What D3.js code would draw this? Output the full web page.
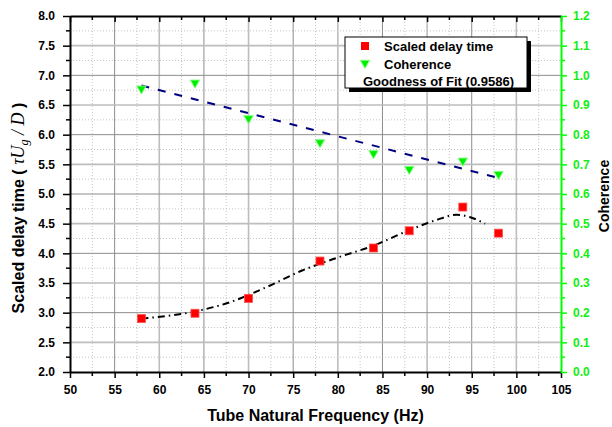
<!DOCTYPE html>
<html>
<head>
<meta charset="utf-8">
<script src="https://cdn.jsdelivr.net/npm/d3@7"></script>
<style>
  body { margin: 0; background: #fff; }
  text { font-family: "Liberation Sans", Arial, sans-serif; font-weight: bold; }
</style>
</head>
<body>
<div class="vis-chart"></div>
<script>
// data
const freq = [58, 64, 70, 78, 84, 88, 94, 98];
const delayTime = [2.90, 2.99, 3.24, 3.87, 4.09, 4.38, 4.78, 4.34];
const coherence = [0.955, 0.975, 0.855, 0.774, 0.737, 0.684, 0.712, 0.667];
// linear fit of coherence (end points)
const fitFreq = [58, 98];
const fitCoh = [0.966, 0.654];
// smooth fit of delay time
const curveFreq = [58, 64, 68, 72, 76, 80, 84, 88, 91, 93.3, 95, 96.5];
const curveDelay = [2.90, 3.02, 3.18, 3.43, 3.71, 3.93, 4.13, 4.39, 4.56, 4.65, 4.60, 4.50];
const xTicks = d3.range(50, 106, 5);
const yTicks = d3.range(2, 8.001, 0.5);
const y2Ticks = d3.range(0, 1.2001, 0.1);
const legendItems = ["Scaled delay time", "Coherence", "Goodness of Fit (0.9586)"];

var margin = {top: 16, right: 51, bottom: 55, left: 70},
    W = 612, H = 427,
    width = W - margin.left - margin.right,
    height = H - margin.top - margin.bottom;

var svg = d3.select(".vis-chart").append("svg")
    .attr("width", W).attr("height", H);
var g = svg.append("g")
    .attr("transform", "translate(" + margin.left + "," + margin.top + ")");

var x = d3.scaleLinear().domain([50, 105]).range([0, width]);
var y = d3.scaleLinear().domain([2, 8]).range([height, 0]);
var y2 = d3.scaleLinear().domain([0, 1.2]).range([height, 0]);

// grid: minor dotted, major solid
var grid = g.append("g");
d3.range(52.5, 105, 5).forEach(function (v) {
  grid.append("line").attr("x1", x(v)).attr("x2", x(v)).attr("y1", 0).attr("y2", height)
    .attr("stroke", "#c4c4c4").attr("stroke-dasharray", "1,2");
});
d3.range(2.25, 8, 0.5).forEach(function (v) {
  grid.append("line").attr("y1", y(v)).attr("y2", y(v)).attr("x1", 0).attr("x2", width)
    .attr("stroke", "#c4c4c4").attr("stroke-dasharray", "1,2");
});
xTicks.slice(1, -1).forEach(function (v) {
  var light = v % 10 === 0;
  grid.append("line").attr("x1", x(v)).attr("x2", x(v)).attr("y1", 0).attr("y2", height)
    .attr("stroke", light ? "#bdbdbd" : "#8c8c8c").attr("stroke-width", light ? 1.6 : 1);
});
yTicks.slice(1, -1).forEach(function (v) {
  var light = Math.abs(v - Math.round(v)) > 0.1;
  grid.append("line").attr("y1", y(v)).attr("y2", y(v)).attr("x1", 0).attr("x2", width)
    .attr("stroke", light ? "#bdbdbd" : "#8c8c8c").attr("stroke-width", light ? 1.6 : 1);
});

// axes
function styleAxis(sel, color) {
  sel.select(".domain").attr("stroke", color).attr("stroke-width", 2);
  sel.selectAll(".tick line").attr("stroke", color).attr("stroke-width", 1.5);
  sel.selectAll("text").attr("fill", color).style("font-size", "12px");
}
function minor(axisG, vals, fn, color) {
  vals.forEach(function (v) { fn(axisG.append("line").attr("stroke", color).attr("stroke-width", 1.5), v); });
}

var xAxis = g.append("g").attr("transform", "translate(0," + height + ")")
  .call(d3.axisBottom(x).tickValues(xTicks).tickFormat(d3.format("d")).tickSize(6).tickPadding(7).tickSizeOuter(0));
styleAxis(xAxis, "#000");
minor(xAxis, d3.range(52.5, 105, 5), function (l, v) { l.attr("x1", x(v)).attr("x2", x(v)).attr("y1", 0).attr("y2", 4); }, "#000");

var topAxis = g.append("g")
  .call(d3.axisTop(x).tickValues(xTicks).tickFormat("").tickSize(-6).tickSizeOuter(0));
styleAxis(topAxis, "#000");
minor(topAxis, d3.range(52.5, 105, 5), function (l, v) { l.attr("x1", x(v)).attr("x2", x(v)).attr("y1", 0).attr("y2", 4); }, "#000");

var yAxis = g.append("g")
  .call(d3.axisLeft(y).tickValues(yTicks).tickFormat(d3.format(".1f")).tickSize(7).tickPadding(8).tickSizeOuter(0));
styleAxis(yAxis, "#000");
minor(yAxis, d3.range(2.25, 8, 0.5), function (l, v) { l.attr("y1", y(v)).attr("y2", y(v)).attr("x1", 0).attr("x2", -4); }, "#000");

var green = "#00ff00";
var y2Axis = g.append("g").attr("transform", "translate(" + width + ",0)")
  .call(d3.axisRight(y2).tickValues(y2Ticks).tickFormat(d3.format(".1f")).tickSize(6).tickPadding(6).tickSizeOuter(0));
styleAxis(y2Axis, green);
y2Axis.selectAll("text").attr("fill", "#11ee11");
minor(y2Axis, d3.range(0.05, 1.2, 0.1), function (l, v) { l.attr("y1", y2(v)).attr("y2", y2(v)).attr("x1", 0).attr("x2", 4); }, green);

// fit lines
g.append("path")
  .datum(fitFreq.map(function (f, i) { return [f, fitCoh[i]]; }))
  .attr("d", d3.line().x(function (d) { return x(d[0]); }).y(function (d) { return y2(d[1]); }))
  .attr("fill", "none").attr("stroke", "#000080").attr("stroke-width", 2)
  .attr("stroke-dasharray", "8,9");

g.append("path")
  .datum(curveFreq.map(function (f, i) { return [f, curveDelay[i]]; }))
  .attr("d", d3.line().curve(d3.curveMonotoneX).x(function (d) { return x(d[0]); }).y(function (d) { return y(d[1]); }))
  .attr("fill", "none").attr("stroke", "#000").attr("stroke-width", 2)
  .attr("stroke-dasharray", "7,4,1.5,4");

// markers
g.append("g").selectAll("rect")
  .data(freq)
  .enter().append("rect")
    .attr("x", function (d) { return x(d) - 4; })
    .attr("y", function (d, i) { return y(delayTime[i]) - 4; })
    .attr("width", 8).attr("height", 8)
    .attr("fill", "#ff0000").attr("stroke", "#ff5050").attr("stroke-width", 0.8);

var tri = d3.symbol().type(d3.symbolTriangle).size(38);
g.append("g").selectAll("path")
  .data(freq)
  .enter().append("path")
    .attr("d", tri)
    .attr("transform", function (d, i) { return "translate(" + x(d) + "," + y2(coherence[i]) + ") rotate(180)"; })
    .attr("fill", "#00ee00").attr("stroke", "#80ff80").attr("stroke-width", 1);

// legend
var lg = svg.append("g").attr("transform", "translate(345,37)");
lg.append("rect").attr("x", 4).attr("y", 4).attr("width", 182).attr("height", 51).attr("fill", "#000");
lg.append("rect").attr("x", 0).attr("y", 0).attr("width", 182).attr("height", 51)
  .attr("fill", "#fff").attr("stroke", "#000").attr("stroke-width", 1);
lg.append("rect").attr("x", 16).attr("y", 5).attr("width", 8).attr("height", 8).attr("fill", "#ff0000");
lg.append("path").attr("d", tri).attr("transform", "translate(20,26) rotate(180)")
  .attr("fill", "#00ee00").attr("stroke", "#80ff80");
legendItems.forEach(function (t, i) {
  lg.append("text").attr("x", i < 2 ? 39 : 18).attr("y", 14 + i * 17.5)
    .style("font-size", "13px").text(t);
});

// titles
svg.append("text").attr("x", margin.left + width / 2).attr("y", 421)
  .attr("text-anchor", "middle").style("font-size", "16px").text("Tube Natural Frequency (Hz)");

var serif = "'Liberation Serif', 'Times New Roman', serif";
var yt = svg.append("text").attr("transform", "translate(24,208) rotate(-90)")
  .attr("text-anchor", "middle").style("font-size", "16px");
yt.append("tspan").text("Scaled delay time ( ");
yt.append("tspan").style("font-family", serif)
  .style("font-style", "italic").style("font-weight", "normal").style("font-size", "18px").text("\u03C4U");
yt.append("tspan").style("font-family", serif)
  .style("font-style", "italic").style("font-weight", "normal").style("font-size", "12px").attr("dy", 4).text("g");
yt.append("tspan").style("font-family", serif)
  .style("font-style", "italic").style("font-weight", "normal").style("font-size", "18px").attr("dy", -4).text(" / D");
yt.append("tspan").text(" )");

svg.append("text").attr("transform", "translate(609,196) rotate(-90)")
  .attr("text-anchor", "middle").style("font-size", "14px").text("Coherence");
</script>
</body>
</html>
